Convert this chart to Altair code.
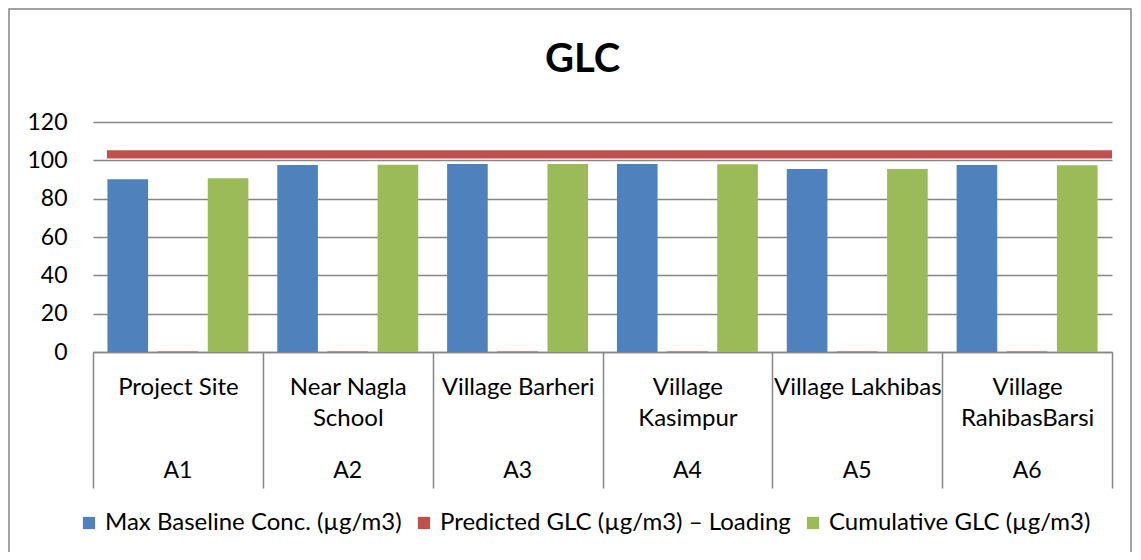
import json
import altair as alt
import pandas as pd

codes = ["A1", "A2", "A3", "A4", "A5", "A6"]
location_lines = [
    ["Project Site"],
    ["Near Nagla", "School"],
    ["Village Barheri"],
    ["Village", "Kasimpur"],
    ["Village Lakhibas"],
    ["Village", "RahibasBarsi"],
]
series = [
    "Max Baseline Conc. (µg/m3)",
    "Predicted GLC (µg/m3) – Loading",
    "Cumulative GLC (µg/m3)",
]
colors = ["#4F81BD", "#C0504D", "#9BBB59"]
baseline = [90.1, 97.6, 98.1, 98.1, 95.5, 97.6]
predicted = [0.3, 0.2, 0.2, 0.2, 0.2, 0.2]
cumulative = [90.6, 97.7, 98.1, 97.9, 95.5, 97.4]
# red "loading" band: value range and extent along the category axis (in category units)
loading_band_low = 101.0
loading_band_high = 105.2
loading_band_from = 0.082
loading_band_to = 6.0
y_ticks = [0, 20, 40, 60, 80, 100, 120]

rows = []
for i, c in enumerate(codes):
    for s, v in zip(series, [baseline[i], predicted[i], cumulative[i]]):
        rows.append({"code": c, "series": s, "value": v})
df = pd.DataFrame(rows)
band_df = pd.DataFrame({"x0": [loading_band_from], "x1": [loading_band_to],
                        "lo": [loading_band_low], "hi": [loading_band_high]})
code_df = pd.DataFrame({"code": codes})

FONT = "Lato"
GRID = "#868686"
label_map = json.dumps(dict(zip(codes, location_lines)))

xscale = alt.Scale(domain=codes, paddingInner=0, paddingOuter=0)
x_axis = alt.Axis(
    title=None, tickBand="extent", tickSize=136, tickColor=GRID, tickWidth=1.5,
    domainColor=GRID, domainWidth=1.5, labelAngle=0, labelFontSize=24, labelFont=FONT,
    labelColor="black", labelLineHeight=31, labelBaseline="top", labelPadding=-113,
    labelLimit=400, labelOverlap=False, labelExpr=f"{label_map}[datum.value]", grid=False,
)
y_axis = alt.Axis(
    title=None, values=y_ticks, tickCount=7, grid=True, gridColor=GRID,
    gridWidth=1.3, domain=False, ticks=False, labelFontSize=23, labelFont=FONT,
    labelColor="black", labelPadding=26, labelOverlap=False, labelFlush=False,
)
yscale = alt.Scale(domain=[0, 120], nice=False)

bars = alt.Chart(df).mark_bar().encode(
    x=alt.X("code:N", scale=xscale, axis=x_axis, sort=codes),
    xOffset=alt.XOffset("series:N", sort=series,
                        scale=alt.Scale(domain=series, paddingInner=0.19, paddingOuter=0.288)),
    y=alt.Y("value:Q", scale=yscale, axis=y_axis),
    color=alt.Color("series:N", sort=series, scale=alt.Scale(domain=series, range=colors),
                    legend=alt.Legend(
                        title=None, orient="none", legendX=-16, legendY=389, direction="horizontal",
                        symbolType="square", symbolSize=150, symbolStrokeWidth=0,
                        labelFontSize=24, labelFont=FONT, labelColor="black",
                        columnPadding=10, labelOffset=4, labelLimit=600)),
)

band = alt.Chart(band_df).mark_rect(color="#C0504D").encode(
    x=alt.X("x0:Q", scale=alt.Scale(domain=[0, len(codes)], nice=False, zero=False), axis=None),
    x2="x1:Q",
    y=alt.Y("lo:Q", scale=yscale),
    y2="hi:Q",
)

code_text = alt.Chart(code_df).mark_text(fontSize=23, font=FONT, color="black").encode(
    x=alt.X("code:N", scale=xscale, sort=codes, axis=None),
    y=alt.value(349),
    text="code:N",
)

border = alt.Chart(pd.DataFrame({"k": [0]})).mark_rect(
    fill=None, stroke=GRID, strokeWidth=1.5
).encode(
    x=alt.value(-84), x2=alt.value(1038), y=alt.value(-113), y2=alt.value(600)
)

chart = alt.layer(border, bars, code_text, band).resolve_scale(x="independent").properties(
    width=1019, height=230,
    title=alt.Title("GLC", fontSize=40, fontWeight="bold", font=FONT, color="black",
                    anchor="middle", dx=-20, offset=0, dy=72),
    padding={"left": 85, "top": 114, "right": 21, "bottom": 200},
    autosize=alt.AutoSizeParams(type="none"),
).configure_view(stroke=None)

chart.save("out.html", embed_options={"renderer": "svg", "actions": False})
